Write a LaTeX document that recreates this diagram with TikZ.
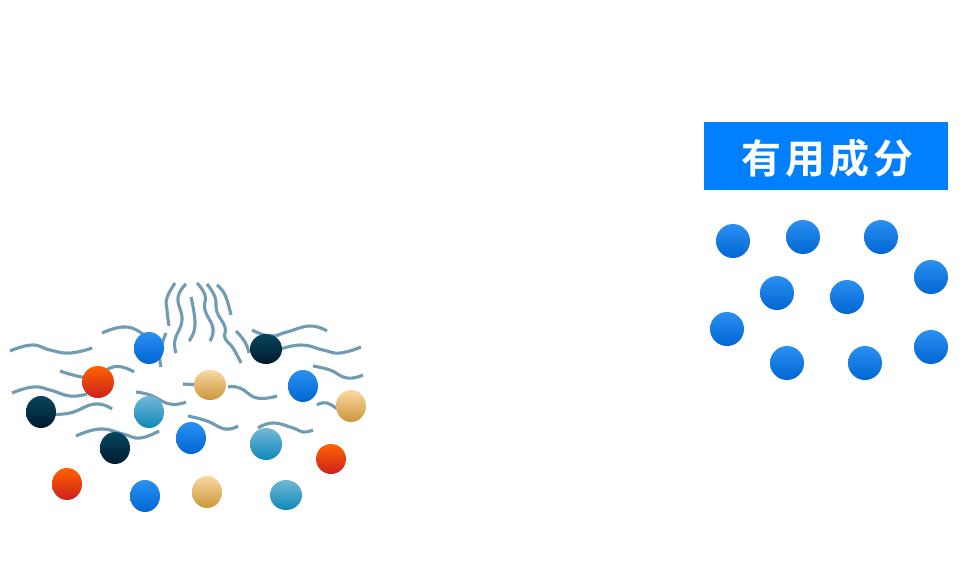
\documentclass[tikz,border=0pt]{standalone}
\usepackage{fontspec}
\newfontfamily\cjk{Noto Sans CJK SC}[BoldFont={Noto Sans CJK SC Bold}]
\definecolor{bandblue}{HTML}{0080FF}
\definecolor{strand}{HTML}{6F9BB3}
\definecolor{bluetop}{HTML}{2B90F2}\definecolor{bluebot}{HTML}{0066D2}
\definecolor{redtop}{HTML}{FF6200}\definecolor{redbot}{HTML}{CC2020}
\definecolor{darktop}{HTML}{06465F}\definecolor{darkbot}{HTML}{001A2E}
\definecolor{tealtop}{HTML}{72B8D6}\definecolor{tealbot}{HTML}{0F88B8}
\definecolor{tantop}{HTML}{FAD8A2}\definecolor{tanbot}{HTML}{CB9638}
\tikzset{
  strandline/.style={draw=strand,line width=3.1pt,line cap=butt,line join=round},
  blueball/.style={top color=bluetop,bottom color=bluebot},
  redball/.style={top color=redtop,bottom color=redbot},
  darkball/.style={top color=darktop,bottom color=darkbot},
  tealball/.style={top color=tealtop,bottom color=tealbot},
  tanball/.style={top color=tantop,bottom color=tanbot},
}
\newcommand{\strandpath}[1]{\draw[strandline] plot[smooth,tension=0.8] coordinates {#1};}
\newcommand{\ball}[5]{\shade[#1] (#2,#3) ellipse [x radius=#4,y radius=#5];}
\begin{document}
\begin{tikzpicture}[x=1pt,y=-1pt]
\useasboundingbox (0,0) rectangle (980,568);
\fill[white] (0,0) rectangle (980,568);

% horizontal strands
\strandpath{(10,351)(32,345)(50,350)(70,353)(92,348)}
\strandpath{(102,333)(123,327)(140,332)(150,342)}
\strandpath{(60,371)(82,377)(96,376)(110,368)(122,367)(134,372)}
\strandpath{(12,393)(33,387)(50,390)(70,396)(87,394)}
\strandpath{(50,414)(70,413)(95,404)(112,409)}
\strandpath{(76,436)(100,429)(123,434)(140,438)(159,431)}
\strandpath{(136,392)(150,395)(170,404)(186,402)}
\strandpath{(188,416)(207,421)(225,429)(238,426)}
\strandpath{(258,428)(273,423)(293,428)(303,432)(313,430)}
\strandpath{(317,405)(327,403)(340,411)}
\strandpath{(183,384)(200,385)}
\strandpath{(228,387)(240,388)(257,398)(277,396)}
\strandpath{(252,330)(270,336)(287,332)(310,326)(327,331)}
\strandpath{(275,351)(300,345)(323,350)(340,353)(361,347)}
\strandpath{(313,366)(330,370)(347,378)(363,375)}

% vertical strands rising from the mass
\strandpath{(175,283)(167,298)(167,310)(169,326)}
\strandpath{(186,284)(178,298)(182,320)(175,340)(176,353)}
\strandpath{(191,297)(195,325)(189,341)}
\strandpath{(166,333)(160,352)(161,367)}
\strandpath{(197,283)(205,295)(205,310)(213,328)(210,341)}
\strandpath{(207,284)(215,297)(217,312)(225,327)(225,338)(233,348)(241,363)}
\strandpath{(217,285)(225,295)(231,315)}
\strandpath{(236,331)(245,342)(249,353)}

% mixed particles
\ball{blueball}{149}{348}{15}{16}
\ball{redball}{98}{382}{16}{16}
\ball{darkball}{41}{412}{15}{16}
\ball{tealball}{149}{412}{15}{16}
\ball{darkball}{115}{448}{15}{16}
\ball{redball}{67}{484}{15}{16}
\ball{blueball}{145}{496}{15}{16}
\ball{tanball}{207}{492}{15}{16}
\ball{tealball}{286}{495}{16}{15}
\ball{tealball}{266}{444}{16}{16}
\ball{redball}{331}{459}{15}{15}
\ball{tanball}{351}{406}{15}{16}
\ball{blueball}{303}{386}{15}{16}
\ball{tanball}{210}{385}{16}{15}
\ball{darkball}{266}{349}{16}{15}
\ball{blueball}{191}{438}{15}{16}

% label band
\node[fill=bandblue,minimum width=244pt,minimum height=68pt,inner sep=0pt,outer sep=0pt] (band) at (826,156) {};
\node[text=white,inner sep=0pt,font=\cjk\bfseries\fontsize{40}{40}\selectfont] (bandtext) at (827,158)
  {有\kern4pt用\kern4pt成\kern4pt分};

% extracted particles
\foreach \px/\py in {733/241,803/237,881/237,931/277,777/293,847/297,727/329,787/363,865/363,931/347}{
  \ball{blueball}{\px}{\py}{17}{17}
}
\end{tikzpicture}
\end{document}
